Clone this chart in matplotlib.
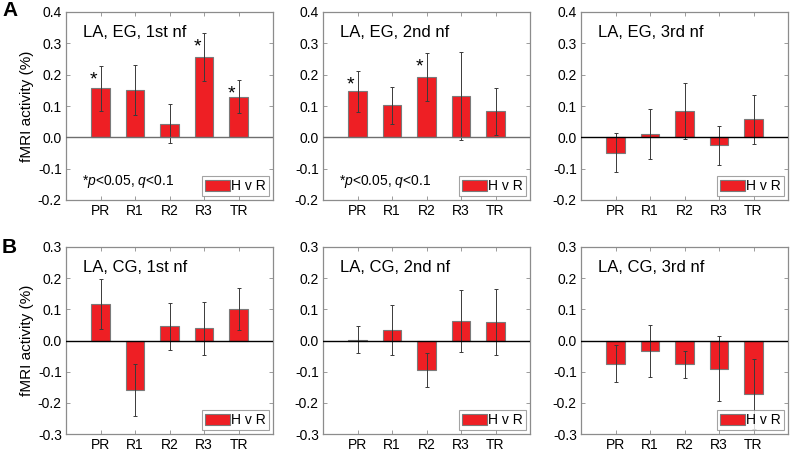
import matplotlib
matplotlib.use("Agg")
import matplotlib.pyplot as plt
import numpy as np

plt.rcParams['font.family'] = ['Liberation Sans', 'DejaVu Sans']
plt.rcParams['mathtext.fontset'] = 'custom'
plt.rcParams['mathtext.it'] = 'Liberation Sans:italic'
plt.rcParams['mathtext.rm'] = 'Liberation Sans'

regions = ['PR', 'R1', 'R2', 'R3', 'TR']

titles = ['LA, EG, 1st nf', 'LA, EG, 2nd nf', 'LA, EG, 3rd nf',
          'LA, CG, 1st nf', 'LA, CG, 2nd nf', 'LA, CG, 3rd nf']

# bar heights (H v R contrast) and error half-widths
eg1_val = [0.157, 0.151, 0.043, 0.257, 0.130]
eg1_err = [0.072, 0.080, 0.062, 0.077, 0.052]
eg2_val = [0.147, 0.102, 0.192, 0.132, 0.083]
eg2_err = [0.066, 0.058, 0.076, 0.141, 0.075]
eg3_val = [-0.049, 0.011, 0.084, -0.025, 0.058]
eg3_err = [0.063, 0.080, 0.088, 0.062, 0.078]
cg1_val = [0.116, -0.160, 0.046, 0.040, 0.101]
cg1_err = [0.080, 0.083, 0.075, 0.085, 0.068]
cg2_val = [0.003, 0.033, -0.094, 0.063, 0.059]
cg2_err = [0.043, 0.081, 0.054, 0.100, 0.107]
cg3_val = [-0.074, -0.034, -0.077, -0.090, -0.171]
cg3_err = [0.058, 0.083, 0.044, 0.103, 0.113]

# significant regions (starred)
eg1_sig = ['PR', 'R3', 'TR']
eg2_sig = ['PR', 'R2']

values = [eg1_val, eg2_val, eg3_val, cg1_val, cg2_val, cg3_val]
errors = [eg1_err, eg2_err, eg3_err, cg1_err, cg2_err, cg3_err]
stars = [eg1_sig, eg2_sig, [], [], [], []]
note = '*$p$<0.05, $q$<0.1'

W, H = 790, 451
fig = plt.figure(figsize=(W / 100, H / 100), dpi=100)

lefts = [66, 323, 581]
rows = [(12, 200), (247, 434)]
axw = 207

bar_color = '#ee1f24'
grey = '#8c8c8c'

for i in range(6):
    r, c = divmod(i, 3)
    top, bot = rows[r]
    ax = fig.add_axes([lefts[c] / W, 1 - bot / H, axw / W, (bot - top) / H])
    x = np.arange(1, 6)
    ax.bar(x, values[i], width=0.55, color=bar_color, edgecolor='#7a7a7a',
           linewidth=0.8, label='H v R', zorder=2)
    ax.errorbar(x, values[i], yerr=errors[i], fmt='none', ecolor='#3a3a3a',
                elinewidth=0.7, capsize=1.5, capthick=0.7, zorder=3)
    zc = '#6e6e6e' if i < 2 else 'black'
    ax.axhline(0, color=zc, linewidth=1.0, zorder=4)
    ax.set_xlim(0, 6)
    if r == 0:
        ax.set_ylim(-0.2, 0.4)
        ax.set_yticks(np.arange(-0.2, 0.41, 0.1))
    else:
        ax.set_ylim(-0.3, 0.3)
        ax.set_yticks(np.arange(-0.3, 0.31, 0.1))
    ax.yaxis.set_major_formatter(matplotlib.ticker.FormatStrFormatter('%.1f'))
    ax.set_xticks(x)
    ax.set_xticklabels(regions)
    ax.tick_params(direction='in', top=True, right=True, length=3, width=0.6,
                   color=grey, labelsize=10, pad=3)
    for s in ax.spines.values():
        s.set_color(grey)
        s.set_linewidth(0.9)
    ax.text(0.083, 0.89, titles[i], transform=ax.transAxes, fontsize=12,
            va='center', ha='left')
    for reg in stars[i]:
        k = regions.index(reg)
        ax.text(x[k] - 0.2, values[i][k] + errors[i][k] - 0.045, '*',
                fontsize=14, ha='center', va='center')
    if stars[i]:
        ax.text(0.077, 0.096, note, transform=ax.transAxes, fontsize=10,
                va='center', ha='left')
    leg = ax.legend(loc='lower right', fontsize=10, frameon=True, fancybox=False,
                    handlelength=1.8, handleheight=0.9, handletextpad=0.1,
                    borderpad=0.2, borderaxespad=0.3)
    leg.get_frame().set_edgecolor(grey)
    leg.get_frame().set_linewidth(0.8)
    if c == 0:
        ax.set_ylabel('fMRI activity (%)', fontsize=11, labelpad=3)

fig.text(2 / W, 1 - 1 / H, 'A', fontsize=15, fontweight='bold', va='top', ha='left')
fig.text(2 / W, 1 - 238 / H, 'B', fontsize=15, fontweight='bold', va='top', ha='left')

fig.savefig('out.png', dpi=100)
